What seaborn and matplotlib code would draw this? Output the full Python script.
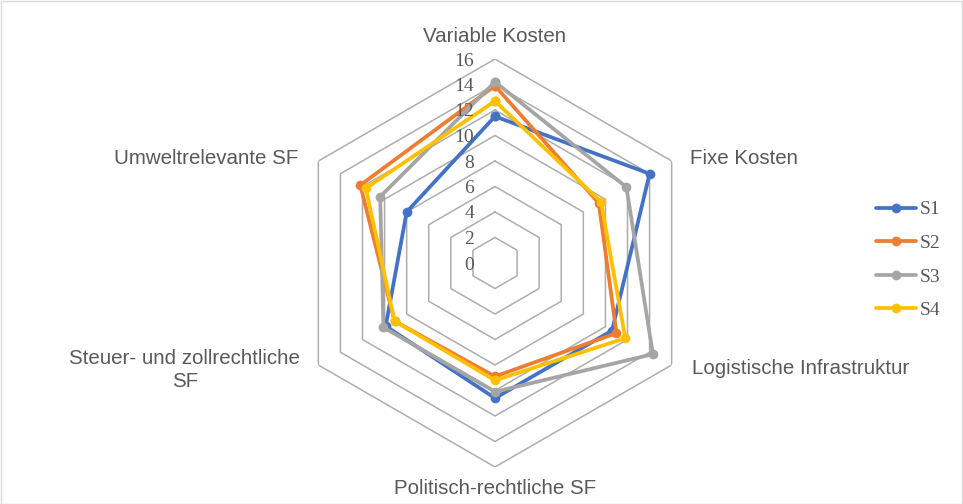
import numpy as np
import pandas as pd
import matplotlib
matplotlib.use("Agg")
import matplotlib.pyplot as plt
import seaborn as sns
from matplotlib.patches import Rectangle

categories = ["Variable Kosten", "Fixe Kosten", "Logistische Infrastruktur",
              "Politisch-rechtliche SF", "Steuer- und zollrechtliche\nSF", "Umweltrelevante SF"]
S1 = [11.5, 14.0, 10.6, 10.6, 9.9, 8.0]
S2 = [13.9, 9.4, 11.0, 8.9, 9.1, 12.2]
S3 = [14.2, 11.9, 14.3, 10.1, 10.1, 10.4]
S4 = [12.7, 9.6, 11.8, 9.2, 9.1, 11.7]
series_names = ["S1", "S2", "S3", "S4"]
tick_values = [0, 2, 4, 6, 8, 10, 12, 14, 16]
colors = ["#4472C4", "#ED7D31", "#A5A5A5", "#FFC000"]

sns.set_style("white")
label_font = ["Liberation Sans", "DejaVu Sans"]
serif_font = ["Liberation Serif", "DejaVu Serif"]
text_color = "#595959"

W, H = 963, 504
fig = plt.figure(figsize=(W / 100, H / 100), dpi=100)
cx, cy, R = 495, 263, 204
ax = fig.add_axes([(cx - R) / W, (H - cy - R) / H, 2 * R / W, 2 * R / H], projection="polar")
ax.set_theta_zero_location("N")
ax.set_theta_direction(-1)
ax.set_ylim(0, 16)
ax.grid(False)
ax.spines["polar"].set_visible(False)
ax.patch.set_alpha(0)

n = len(categories)
angles = np.linspace(0, 2 * np.pi, n, endpoint=False)
closed_angles = np.append(angles, angles[0])

# hexagonal grid
for v in tick_values[1:]:
    ax.plot(closed_angles, [v] * (n + 1), color="#ADADAD", lw=1.1, zorder=1)

rows = []
for name, vals in zip(series_names, [S1, S2, S3, S4]):
    vv = list(vals) + [vals[0]]
    for i, (a, v) in enumerate(zip(closed_angles, vv)):
        rows.append({"series": name, "theta": a, "value": v, "order": i})
df = pd.DataFrame(rows)

for name, col in zip(series_names, colors):
    sub = df[df["series"] == name]
    sns.lineplot(data=sub, x="theta", y="value", sort=False, estimator=None, ax=ax,
                 color=col, lw=2.7, marker="o", markersize=7, markeredgecolor=col,
                 markeredgewidth=0, label=name, zorder=3)
ax.set_xlabel("")
ax.set_ylabel("")
ax.set_xticks([])
ax.set_yticks([])
ax.set_ylim(0, 16)

# radial tick labels
for v in tick_values:
    ax.annotate(str(v), xy=(0, v), xytext=(-21, -2), textcoords="offset pixels",
                ha="right", va="center", fontsize=14, family=serif_font, color=text_color)

# category labels
offsets = [(0, 22, "center", "center"), (18, 3, "left", "center"), (20, -3, "left", "center"),
           (0, -22, "center", "center"), (-18, -5, "right", "center"), (-20, 3, "right", "center")]
for a, lab, (dx, dy, ha, va) in zip(angles, categories, offsets):
    ax.annotate(lab, xy=(a, 16), xytext=(dx, dy), textcoords="offset pixels",
                ha=ha, va=va, fontsize=14.8, family=label_font, color=text_color,
                multialignment="center", linespacing=1.3, annotation_clip=False)

if ax.get_legend():
    ax.get_legend().remove()
handles, labels = ax.get_legend_handles_labels()
leg = fig.legend(handles, labels, loc="center left",
                 bbox_to_anchor=(876 / W, (H - 260) / H), frameon=False,
                 prop={"family": serif_font, "size": 14}, handlelength=2.05,
                 handletextpad=0.2, labelspacing=0.82, borderpad=0, borderaxespad=0)
for t in leg.get_texts():
    t.set_color(text_color)

fig.patches.append(Rectangle((0.5 / W, 0.5 / H), 1 - 1.5 / W, 1 - 1.5 / H, transform=fig.transFigure,
                             fill=False, edgecolor="#D9D9D9", lw=1))

fig.savefig("out.png", dpi=100)
